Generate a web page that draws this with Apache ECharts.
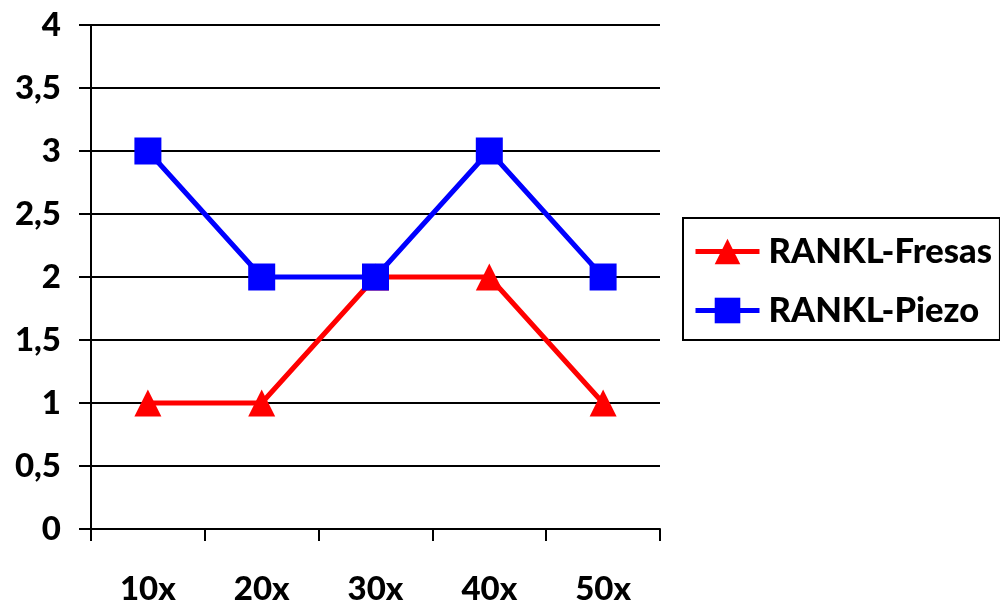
<!DOCTYPE html>
<html><head><meta charset="utf-8">
<script src="https://cdn.jsdelivr.net/npm/echarts@6/dist/echarts.min.js"></script>
<style>html,body{margin:0;padding:0;background:#fff}#c{width:1000px;height:607px}</style>
</head><body><div id="c"></div>
<script>
const categories = ['10x','20x','30x','40x','50x'];
const fresas = [1, 1, 2, 2, 1];
const piezo = [3, 2, 2, 3, 2];
const yTicks = ['0','0,5','1','1,5','2','2,5','3','3,5','4'];

const FONT = 'Lato';
const W = 900;
const chart = echarts.init(document.getElementById('c'));
chart.setOption({
  animation: false,
  backgroundColor: '#fff',
  grid: { left: 91, right: 340, top: 25, bottom: 78, containLabel: false },
  xAxis: {
    type: 'category', data: categories, boundaryGap: true,
    axisLine: { lineStyle: { color: '#000', width: 2 } },
    axisTick: { show: true, length: 12, lineStyle: { color: '#000', width: 2 } },
    axisLabel: { color: '#000', fontFamily: FONT, fontWeight: W, fontSize: 33, margin: 44 },
    splitLine: { show: false }
  },
  yAxis: {
    type: 'value', min: 0, max: 4, interval: 0.5,
    axisLine: { show: true, lineStyle: { color: '#000', width: 2 } },
    axisTick: { show: true, length: 12, lineStyle: { color: '#000', width: 2 } },
    axisLabel: { color: '#000', fontFamily: FONT, fontWeight: W, fontSize: 33, margin: 30,
      formatter: v => yTicks[Math.round(v * 2)] },
    splitLine: { show: true, lineStyle: { color: '#000', width: 2 } }
  },
  legend: {
    orient: 'vertical', left: 683, top: 218,
    padding: [16, 8, 12, 10],
    borderColor: '#000', borderWidth: 2,
    itemWidth: 64, itemHeight: 32, itemGap: 24,
    lineStyle: { width: 5 },
    textStyle: { color: '#000', fontFamily: FONT, fontWeight: W, fontSize: 34.5, padding: [0,0,0,4] },
    data: ['RANKL-Fresas', 'RANKL-Piezo']
  },
  series: [
    { name: 'RANKL-Fresas', type: 'line', data: fresas,
      symbol: 'triangle', symbolSize: 27,
      lineStyle: { color: '#FF0000', width: 5 }, itemStyle: { color: '#FF0000' } },
    { name: 'RANKL-Piezo', type: 'line', data: piezo,
      symbol: 'rect', symbolSize: 27,
      lineStyle: { color: '#0000FF', width: 5 }, itemStyle: { color: '#0000FF' } }
  ]
});
</script></body></html>
